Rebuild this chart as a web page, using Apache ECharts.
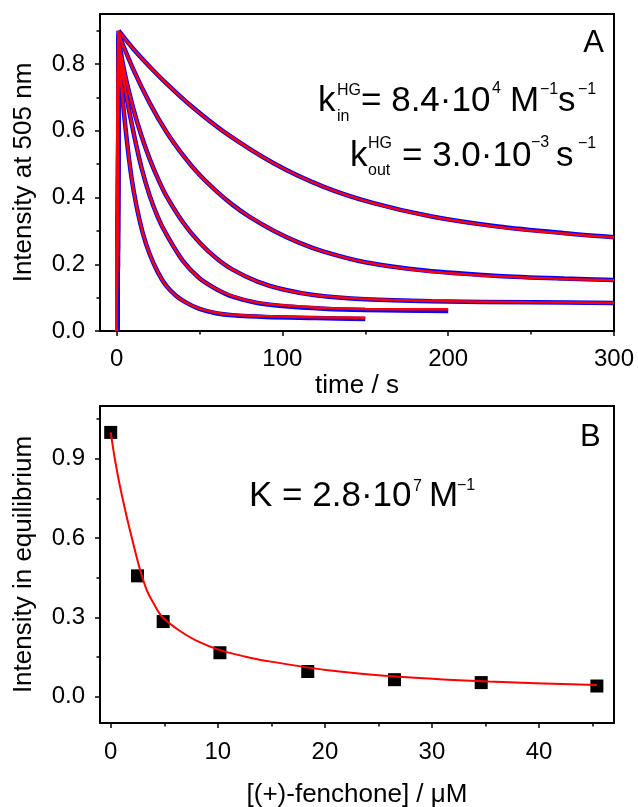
<!DOCTYPE html>
<html>
<head>
<meta charset="utf-8">
<script src="https://cdn.jsdelivr.net/npm/echarts@6/dist/echarts.min.js"></script>
<style>
  html, body { margin: 0; padding: 0; background: #fff; }
  #chart { width: 638px; height: 807px; }
</style>
</head>
<body>
<div id="chart"></div>
<script>
// ---- Panel A: intensity at 505 nm vs time, measured traces and kinetic fits ----
const traceA1 = [[0.6,0],[1.2,0.90],[10,0.846],[20,0.792],[30,0.742],[45,0.674],[65,0.596],[95,0.502],[125,0.432],[155,0.383],[190,0.343],[230,0.313],[270,0.293],[300,0.281]];
const traceA2 = [[0.6,0],[1.2,0.89],[10,0.785],[20,0.683],[30,0.597],[40,0.527],[50,0.468],[60,0.42],[70,0.378],[80,0.343],[95,0.30],[110,0.265],[125,0.238],[150,0.206],[186,0.181],[230,0.165],[270,0.157],[300,0.153]];
const traceA3 = [[0.6,0],[1.2,0.875],[5,0.77],[10,0.668],[15,0.585],[20,0.515],[25,0.456],[30,0.405],[40,0.326],[50,0.265],[60,0.219],[70,0.184],[85,0.148],[100,0.125],[120,0.107],[150,0.095],[190,0.089],[250,0.086],[300,0.084]];
const traceA4 = [[0.6,0],[1.2,0.86],[5,0.73],[10,0.60],[15,0.49],[20,0.405],[25,0.34],[30,0.29],[40,0.21],[50,0.158],[60,0.126],[70,0.103],[85,0.084],[100,0.075],[125,0.067],[150,0.063],[200,0.060]];
const traceA5 = [[0.6,0],[1.2,0.84],[3,0.73],[6,0.58],[9,0.46],[12,0.375],[16,0.29],[20,0.23],[25,0.175],[30,0.135],[36,0.105],[42,0.085],[50,0.066],[60,0.053],[70,0.047],[90,0.042],[120,0.039],[150,0.036]];

const fitA1 = [[0,0],[1,0.90],[10,0.846],[20,0.792],[30,0.742],[45,0.674],[65,0.596],[95,0.502],[125,0.432],[155,0.383],[190,0.343],[230,0.312],[270,0.292],[300,0.280]];
const fitA2 = [[0,0],[1,0.89],[10,0.785],[20,0.683],[30,0.597],[40,0.527],[50,0.468],[60,0.42],[70,0.378],[80,0.343],[95,0.30],[110,0.265],[125,0.238],[150,0.206],[186,0.180],[230,0.164],[270,0.156],[300,0.152]];
const fitA3 = [[0,0],[1,0.875],[5,0.77],[10,0.668],[15,0.585],[20,0.515],[25,0.456],[30,0.405],[40,0.326],[50,0.265],[60,0.219],[70,0.184],[85,0.148],[100,0.125],[120,0.107],[150,0.096],[190,0.090],[250,0.086],[300,0.084]];
const fitA4 = [[0,0],[1,0.86],[5,0.73],[10,0.60],[15,0.49],[20,0.405],[25,0.34],[30,0.29],[40,0.21],[50,0.158],[60,0.126],[70,0.104],[85,0.085],[100,0.077],[125,0.069],[150,0.066],[200,0.065]];
const fitA5 = [[0,0],[1,0.84],[3,0.73],[6,0.58],[9,0.46],[12,0.375],[16,0.29],[20,0.23],[25,0.175],[30,0.135],[36,0.105],[42,0.085],[50,0.067],[60,0.055],[70,0.049],[90,0.044],[120,0.041],[150,0.040]];

const timeTicks = [0, 100, 200, 300];
const timeMinorTicks = [50, 150, 250];
const intensityTicksA = [0, 0.2, 0.4, 0.6, 0.8];
const intensityMinorTicksA = [0.1, 0.3, 0.5, 0.7, 0.9];

// ---- Panel B: equilibrium intensity vs (+)-fenchone concentration ----
const fenchoneConc = [0, 2.5, 4.9, 10.2, 18.4, 26.5, 34.6, 45.4];
const eqIntensity = [1.0, 0.457, 0.284, 0.166, 0.095, 0.064, 0.053, 0.040];
const bindingFitConc = [0, 0.4, 0.87, 1.5, 2.1, 2.74, 3.37, 4.0, 4.77, 6.33, 7.9, 10.2, 12.6, 14.4, 20.1, 27.7, 35.3, 45.4];
const bindingFitIntensity = [1.0, 0.896, 0.795, 0.68, 0.58, 0.48, 0.403, 0.353, 0.303, 0.252, 0.214, 0.176, 0.151, 0.136, 0.101, 0.073, 0.057, 0.044];

const concTicks = [0, 10, 20, 30, 40];
const concMinorTicks = [5, 15, 25, 35, 45];
const intensityTicksB = [0, 0.3, 0.6, 0.9];
const intensityMinorTicksB = [0.15, 0.45, 0.75, 1.05];

const FONT = 'Liberation Sans, Arial, Helvetica, sans-serif';
const INK = '#000';

function majorAxis(gridIndex, min, max, ticks, extra) {
  return Object.assign({
    type: 'value', gridIndex, min, max,
    axisLine: { show: true, onZero: false, lineStyle: { color: INK, width: 2 } },
    axisTick: { show: true, customValues: ticks, length: 5, inside: false, lineStyle: { color: INK, width: 1.5 } },
    axisLabel: { customValues: ticks, color: INK, fontSize: 24, fontFamily: FONT },
    splitLine: { show: false },
    nameTextStyle: { color: INK, fontSize: 26, fontFamily: FONT }
  }, extra);
}
function minorAxis(gridIndex, min, max, ticks, extra) {
  return Object.assign({
    type: 'value', gridIndex, min, max,
    axisLine: { show: false, onZero: false },
    axisTick: { show: true, customValues: ticks, length: 3.5, inside: false, lineStyle: { color: INK, width: 1.5 } },
    axisLabel: { show: false },
    splitLine: { show: false }
  }, extra);
}

const xAxes = [
  majorAxis(0, -10, 300, timeTicks, {
    position: 'bottom', name: 'time / s', nameLocation: 'middle', nameGap: 42,
    axisLabel: { customValues: timeTicks, color: INK, fontSize: 24, fontFamily: FONT, margin: 16 }
  }),
  minorAxis(0, -10, 300, timeMinorTicks, { position: 'bottom' }),
  majorAxis(1, -1, 47, concTicks, {
    position: 'bottom', name: '[(+)-fenchone] / \u03bcM', nameLocation: 'middle', nameGap: 59,
    axisLabel: { customValues: concTicks, color: INK, fontSize: 24, fontFamily: FONT, margin: 17 }
  }),
  minorAxis(1, -1, 47, concMinorTicks, { position: 'bottom' })
];

const yAxes = [
  majorAxis(0, 0, 0.95, intensityTicksA, {
    position: 'left', name: 'Intensity at 505 nm', nameLocation: 'middle', nameGap: 63,
    axisLabel: { customValues: intensityTicksA, color: INK, fontSize: 24, fontFamily: FONT, margin: 15,
      formatter: v => v.toFixed(1) }
  }),
  minorAxis(0, 0, 0.95, intensityMinorTicksA, { position: 'left' }),
  majorAxis(1, -0.1, 1.1, intensityTicksB, {
    position: 'left', name: 'Intensity in equilibrium', nameLocation: 'middle', nameGap: 63,
    axisLabel: { customValues: intensityTicksB, color: INK, fontSize: 24, fontFamily: FONT, margin: 15,
      formatter: v => v.toFixed(1) }
  }),
  minorAxis(1, -0.1, 1.1, intensityMinorTicksB, { position: 'left' })
];

const traces = [traceA1, traceA2, traceA3, traceA4, traceA5];
const fits = [fitA1, fitA2, fitA3, fitA4, fitA5];

// each curve: a straight jump from zero to the peak, then a smooth decay
function addCurve(list, d, color, width, z) {
  list.push({
    type: 'line', xAxisIndex: 0, yAxisIndex: 0, data: d.slice(0, 2), showSymbol: false,
    smooth: false, lineStyle: { color, width }, z
  });
  list.push({
    type: 'line', xAxisIndex: 0, yAxisIndex: 0, data: d.slice(1), showSymbol: false,
    smooth: 0.3, lineStyle: { color, width }, z
  });
}

const series = [];
traces.forEach(d => addCurve(series, d, '#0000ff', 4.5, 2));
fits.forEach(d => addCurve(series, d, '#ff0000', 2.5, 3));
series.push({
  type: 'scatter', xAxisIndex: 2, yAxisIndex: 2,
  data: fenchoneConc.map((c, i) => [c, eqIntensity[i]]),
  symbol: 'rect', symbolSize: 13, itemStyle: { color: '#000', opacity: 1 }, z: 2
});
series.push({
  type: 'line', xAxisIndex: 2, yAxisIndex: 2,
  data: bindingFitConc.map((c, i) => [c, bindingFitIntensity[i]]),
  showSymbol: false, smooth: 0.3,
  lineStyle: { color: '#ff0000', width: 2 }, z: 3
});

// text pieces: baseline y is converted to a middle-anchored position
function txt(str, x, baseline, size, align) {
  return {
    type: 'text', z: 100,
    style: {
      text: str, x: x, y: baseline - 0.31 * size,
      font: size + 'px ' + FONT, fill: INK,
      textAlign: align || 'left', textVerticalAlign: 'middle'
    }
  };
}
const BIG = 35, SMALL = 16;
const graphic = [
  txt('A', 604, 53.5, 31, 'right'),
  // k_in^HG = 8.4·10^4 M^-1 s^-1
  txt('k', 318, 112, BIG),
  txt('HG', 337, 96, SMALL),
  txt('in', 337, 122, SMALL),
  txt('= 8.4\u00b710', 361, 112, BIG),
  txt('4', 492, 94, SMALL),
  txt('M', 510, 112, BIG),
  txt('\u22121', 540, 95, SMALL),
  txt('s', 558, 112, BIG),
  txt('\u22121', 578, 95, SMALL),
  // k_out^HG = 3.0·10^-3 s^-1
  txt('k', 350, 167, BIG),
  txt('HG', 368, 149, SMALL),
  txt('out', 368, 176, SMALL),
  txt('= 3.0\u00b710', 402, 167, BIG),
  txt('\u22123', 531, 148, SMALL),
  txt('s', 556, 167, BIG),
  txt('\u22121', 578, 149, SMALL),
  // panel B
  txt('B', 580, 447, 31),
  txt('K = 2.8\u00b710', 249, 507, BIG),
  txt('7', 413, 492, SMALL),
  txt('M', 429, 507, BIG),
  txt('\u22121', 457, 491, SMALL)
];

const chart = echarts.init(document.getElementById('chart'), null, { renderer: 'canvas' });
chart.setOption({
  animation: false,
  backgroundColor: '#fff',
  textStyle: { fontFamily: FONT },
  grid: [
    { left: 100, top: 14, width: 514, height: 317, show: true, borderColor: INK, borderWidth: 2,
      backgroundColor: 'transparent', containLabel: false, outerBoundsMode: 'none' },
    { left: 100, top: 406, width: 514, height: 317, show: true, borderColor: INK, borderWidth: 2,
      backgroundColor: 'transparent', containLabel: false, outerBoundsMode: 'none' }
  ],
  xAxis: xAxes,
  yAxis: yAxes,
  series: series,
  graphic: graphic
});
</script>
</body>
</html>
